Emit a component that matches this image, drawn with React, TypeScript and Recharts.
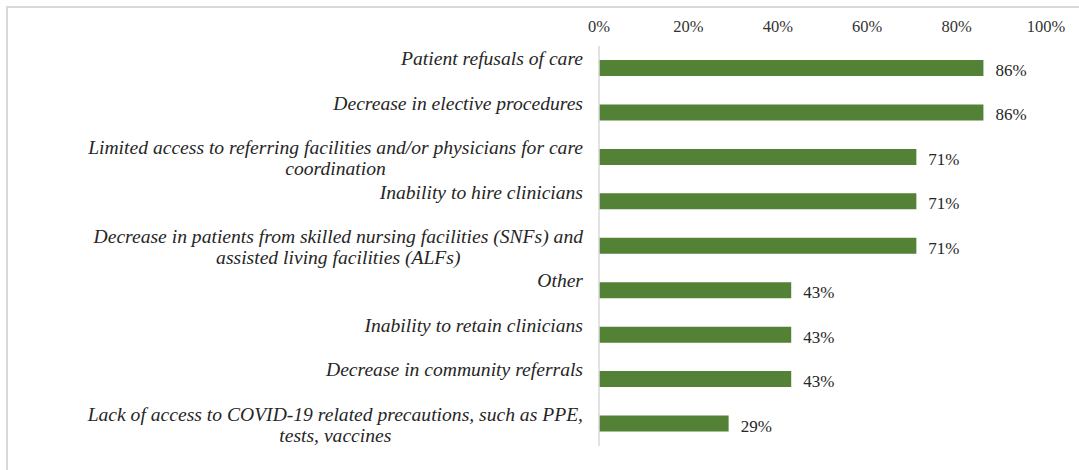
import { BarChart, Bar, XAxis, YAxis, LabelList } from 'recharts';

const categories = [
  'Patient refusals of care',
  'Decrease in elective procedures',
  'Limited access to referring facilities and/or physicians for care\ncoordination',
  'Inability to hire clinicians',
  'Decrease in patients from skilled nursing facilities (SNFs) and\nassisted living facilities (ALFs)',
  'Other',
  'Inability to retain clinicians',
  'Decrease in community referrals',
  'Lack of access to COVID-19 related precautions, such as PPE,\ntests, vaccines',
];
const values = [86, 86, 71, 71, 71, 43, 43, 43, 29];
const xTicks = [0, 20, 40, 60, 80, 100];

const data = categories.map((name, i) => ({ name, value: values[i] }));

const LABEL_FONT = "italic 19.6px 'Liberation Serif'";

let ctx: CanvasRenderingContext2D | null = null;
function measure(text: string) {
  if (!ctx) ctx = document.createElement('canvas').getContext('2d');
  if (!ctx) return text.length * 8;
  ctx.font = LABEL_FONT;
  return ctx.measureText(text).width;
}

function CategoryTick(props: any) {
  const { x, y, payload } = props;
  const lines: string[] = String(payload.value).split('\n');
  const widest = Math.max(...lines.map(measure));
  const cx = x - widest / 2;
  return (
    <g>
      {lines.map((line, i) => (
        <text
          key={i}
          x={cx}
          y={y - 3 + i * 21}
          textAnchor="middle"
          style={{ font: LABEL_FONT }}
          fill="#262626"
        >
          {line}
        </text>
      ))}
    </g>
  );
}

export default function App() {
  return (
    <div style={{ position: 'absolute', left: 0, top: 0, width: 1079, height: 470, background: '#fff' }}>
      <div
        style={{
          position: 'absolute',
          left: 6,
          top: 6,
          width: 1079,
          height: 470,
          borderTop: '2px solid #d9d9d9',
          borderLeft: '2px solid #d9d9d9',
        }}
      />
      <BarChart
        layout="vertical"
        width={1079}
        height={470}
        data={data}
        margin={{ top: 16, right: 33, bottom: 24, left: 8 }}
        style={{ position: 'absolute', left: 0, top: 0 }}
      >
        <XAxis
          type="number"
          orientation="top"
          domain={[0, 100]}
          ticks={xTicks}
          tickFormatter={(v) => `${v}%`}
          axisLine={false}
          tickLine={false}
          height={30}
          tickMargin={8}
          tick={{ fontSize: 16.5, fill: '#333', fontFamily: "'Liberation Serif'" }}
        />
        <YAxis
          type="category"
          dataKey="name"
          width={591}
          tickLine={false}
          tickMargin={10}
          axisLine={{ stroke: '#d9d9d9', strokeWidth: 1.5 }}
          tick={<CategoryTick />}
          interval={0}
        />
        <Bar dataKey="value" fill="#538135" barSize={16} isAnimationActive={false}>
          <LabelList
            dataKey="value"
            position="right"
            offset={12}
            formatter={(v: any) => `${v}%`}
            style={{ fontSize: 17, fill: '#262626', fontFamily: "'Liberation Serif'" }}
            dy={2}
          />
        </Bar>
      </BarChart>
    </div>
  );
}
